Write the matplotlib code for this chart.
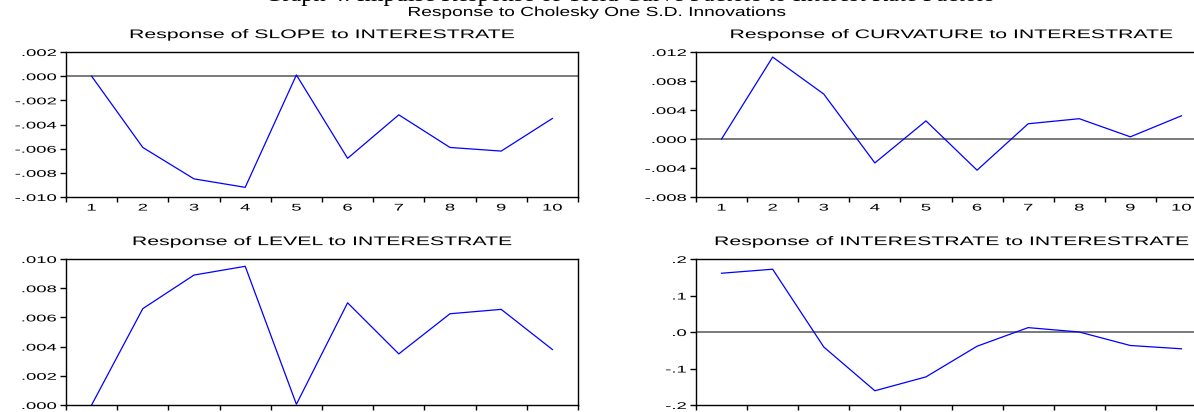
import numpy as np
import matplotlib
matplotlib.use("Agg")
import matplotlib.pyplot as plt
from matplotlib.patheffects import AbstractPathEffect
from matplotlib.transforms import Affine2D

# impulse response values, periods 1..10
periods = np.arange(1, 11)
slope = [0.0, -0.0059, -0.0085, -0.0092, 0.0001, -0.0068, -0.0032, -0.0059, -0.0062, -0.0035]
curvature = [0.0, 0.0113, 0.0062, -0.0033, 0.0025, -0.0043, 0.0021, 0.0028, 0.0003, 0.0032]
level = [0.0, 0.0066, 0.0089, 0.0095, 0.00005, 0.0070, 0.0035, 0.00625, 0.00655, 0.0038]
interest = [0.161, 0.172, -0.041, -0.161, -0.123, -0.039, 0.012, 0.0, -0.037, -0.046]

titles = ["Response of SLOPE to INTERESTRATE",
          "Response of CURVATURE to INTERESTRATE",
          "Response of LEVEL to INTERESTRATE",
          "Response of INTERESTRATE to INTERESTRATE"]
ylims = [(-0.010, 0.002), (-0.008, 0.012), (0.0, 0.010), (-0.2, 0.2)]
yticks = [np.arange(-0.010, 0.0021, 0.002), np.arange(-0.008, 0.0121, 0.004),
          np.arange(0.0, 0.0101, 0.002), np.arange(-0.2, 0.21, 0.1)]
ydec = [3, 3, 3, 1]
series = [slope, curvature, level, interest]


class Stretch(AbstractPathEffect):
    # widen text horizontally (EViews-style wide lettering), text stays text
    def __init__(self, sx, align='center'):
        super().__init__()
        self.sx = sx
        self.align = align

    def draw_path(self, renderer, gc, tpath, affine, rgbFace=None):
        ext = tpath.get_extents(affine)
        if self.align == 'left':
            x0 = ext.x0
        elif self.align == 'right':
            x0 = ext.x1
        else:
            x0 = (ext.x0 + ext.x1) / 2
        tr = affine + Affine2D().translate(-x0, 0).scale(self.sx, 1).translate(x0, 0)
        renderer.draw_path(gc, tpath, tr, rgbFace)


W, H = 1194, 412
fig = plt.figure(figsize=(W / 100, H / 100), dpi=100)
plt.rcParams['font.family'] = ['Liberation Sans', 'DejaVu Sans']

# axes boxes in pixels: left, right, top, bottom
boxes = [(66, 578, 52, 197), (696, 1207, 52, 197),
         (66, 578, 259, 405), (696, 1207, 259, 405)]


def fmt(v, d):
    s = f"{v:.{d}f}"
    if abs(v) < 1e-12:
        s = f"{0:.{d}f}"
    return s.replace("0.", ".", 1)


for i in range(4):
    l, r, t, b = boxes[i]
    ax = fig.add_axes([l / W, (H - b) / H, (r - l) / W, (b - t) / H])
    ax.plot(periods, series[i], color='#0000ff', lw=0.9)
    if ylims[i][0] < 0 < ylims[i][1]:
        ax.axhline(0, color='#555555', lw=1.1, zorder=1)
    ax.set_xlim(0.5, 10.5)
    ax.set_ylim(*ylims[i])
    ax.set_xticks(np.arange(0.5, 11, 1))
    ax.set_xticklabels([])
    ax.set_xticks(periods, minor=True)
    if i < 2:
        ax.set_xticklabels([str(p) for p in periods], minor=True)
    else:
        ax.set_xticklabels([], minor=True)  # cut off below the picture
    ax.tick_params(axis='x', which='minor', length=0, pad=4, labelsize=7)
    ax.tick_params(axis='x', which='major', length=3.5, width=1, direction='out')
    ax.set_yticks(yticks[i])
    ax.set_yticklabels([fmt(v, ydec[i]) for v in yticks[i]])
    ax.tick_params(axis='y', length=4, width=1, direction='out', pad=3, labelsize=7)
    for lab in ax.get_yticklabels():
        lab.set_path_effects([Stretch(1.9, 'right')])
    for lab in ax.get_xticklabels(minor=True):
        lab.set_path_effects([Stretch(1.9, 'center')])
    for sp in ax.spines.values():
        sp.set_linewidth(1)
    tt = ax.set_title(titles[i], fontsize=9, pad=10)
    tt.set_path_effects([Stretch(1.7, 'center')])

sup = fig.text(597 / W, 1 - 13 / H, "Response to Cholesky One S.D. Innovations",
               ha='center', va='center', fontsize=9.5)
sup.set_path_effects([Stretch(1.45, 'center')])
fig.text(630 / W, 1 - 1.5 / H,
         "Graph 4: Impulse Response of Yield Curve Factors to Interest Rate Factors",
         ha='center', va='baseline', fontsize=17.5, family=['Liberation Serif', 'DejaVu Serif'])

fig.savefig("out.png", dpi=100)
